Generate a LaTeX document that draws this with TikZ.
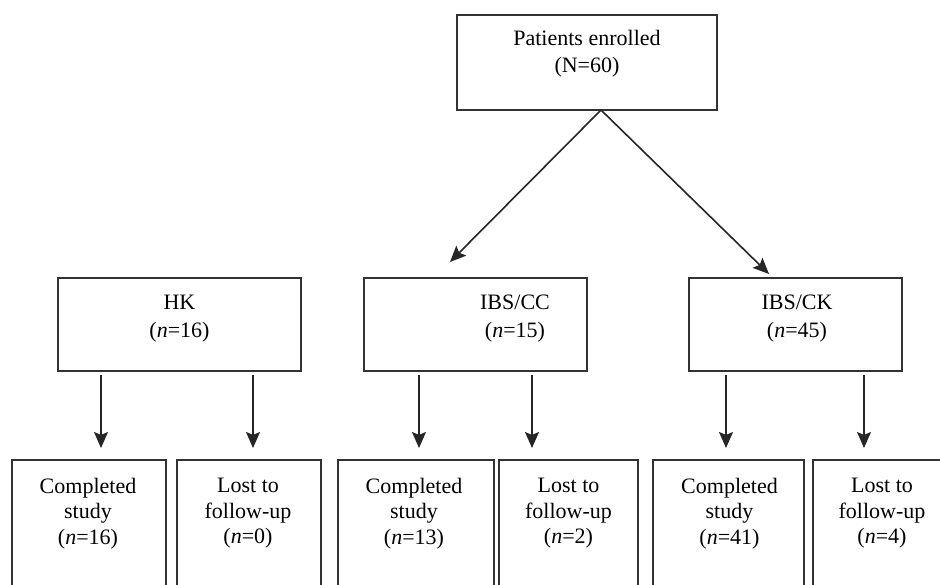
\documentclass[tikz,border=0pt]{standalone}
\usepackage{fontspec}
\setmainfont{Liberation Serif}
\usetikzlibrary{arrows.meta}
\begin{document}
\begin{tikzpicture}[x=1pt,y=-1pt,
  box/.style={draw=black!80, line width=1.5pt, inner sep=0pt, outer sep=0pt},
  txt/.style={font=\fontsize{22}{27.5}\selectfont, align=center, inner sep=0pt, anchor=north},
  txtb/.style={font=\fontsize{22}{25.5}\selectfont, align=center, inner sep=0pt, anchor=north},
  arr/.style={draw=black!85, line width=1.6pt, -{Stealth[length=16pt,width=14pt,inset=3pt]}}]
\useasboundingbox (0,0) rectangle (940,585);
\clip (0,0) rectangle (940,585);
\fill[white] (0,0) rectangle (940,585);
% boxes
\node[box, minimum width=260pt, minimum height=95pt] (top) at (587,62.5) {};
\node[box, minimum width=243pt, minimum height=93pt] (hk) at (179.5,324.5) {};
\node[box, minimum width=223pt, minimum height=93pt] (cc) at (475.5,324.5) {};
\node[box, minimum width=213pt, minimum height=93pt] (ck) at (795.5,324.5) {};
\node[box, minimum width=154pt, minimum height=200pt] (b1) at (89,560) {};
\node[box, minimum width=144pt, minimum height=200pt] (b2) at (249,560) {};
\node[box, minimum width=156pt, minimum height=200pt] (b3) at (416,560) {};
\node[box, minimum width=139pt, minimum height=200pt] (b4) at (568.5,560) {};
\node[box, minimum width=151pt, minimum height=200pt] (b5) at (728.5,560) {};
\node[box, minimum width=139pt, minimum height=200pt] (b6) at (882.5,560) {};
% texts
\node[txt] (topT) at (587,30) {Patients enrolled\\(N=60)};
\node[txt] (hkT) at (179.5,295) {HK\\(\textit{n}=16)};
\node[txt] (ccT) at (515,295) {IBS/CC\\(\textit{n}=15)};
\node[txt] (ckT) at (797,295) {IBS/CK\\(\textit{n}=45)};
\node[txtb] (b1T) at (88,478) {Completed\\study\\(\textit{n}=16)};
\node[txtb] (b2T) at (248,478) {Lost to\\follow-up\\(\textit{n}=0)};
\node[txtb] (b3T) at (414,478) {Completed\\study\\(\textit{n}=13)};
\node[txtb] (b4T) at (568.5,478) {Lost to\\follow-up\\(\textit{n}=2)};
\node[txtb] (b5T) at (729.5,478) {Completed\\study\\(\textit{n}=41)};
\node[txtb] (b6T) at (882,478) {Lost to\\follow-up\\(\textit{n}=4)};
% arrows from top
\draw[arr] ([xshift=14pt]top.south) -- ([xshift=-25.5pt,yshift=16pt]cc.north);
\draw[arr] ([xshift=14pt]top.south) -- ([xshift=-26.5pt,yshift=4pt]ck.north);
% down arrows
\draw[arr, shorten >=12pt] ([xshift=-78.5pt,yshift=-4pt]hk.south) coordinate (s1) -- (s1 |- b1.north);
\draw[arr, shorten >=12pt] ([xshift=73.5pt,yshift=-4pt]hk.south) coordinate (s2) -- (s2 |- b2.north);
\draw[arr, shorten >=12pt] ([xshift=-56.5pt,yshift=-4pt]cc.south) coordinate (s3) -- (s3 |- b3.north);
\draw[arr, shorten >=12pt] ([xshift=56.5pt,yshift=-4pt]cc.south) coordinate (s4) -- (s4 |- b4.north);
\draw[arr, shorten >=12pt] ([xshift=-69.5pt,yshift=-4pt]ck.south) coordinate (s5) -- (s5 |- b5.north);
\draw[arr, shorten >=12pt] ([xshift=68.5pt,yshift=-4pt]ck.south) coordinate (s6) -- (s6 |- b6.north);
\end{tikzpicture}
\end{document}
